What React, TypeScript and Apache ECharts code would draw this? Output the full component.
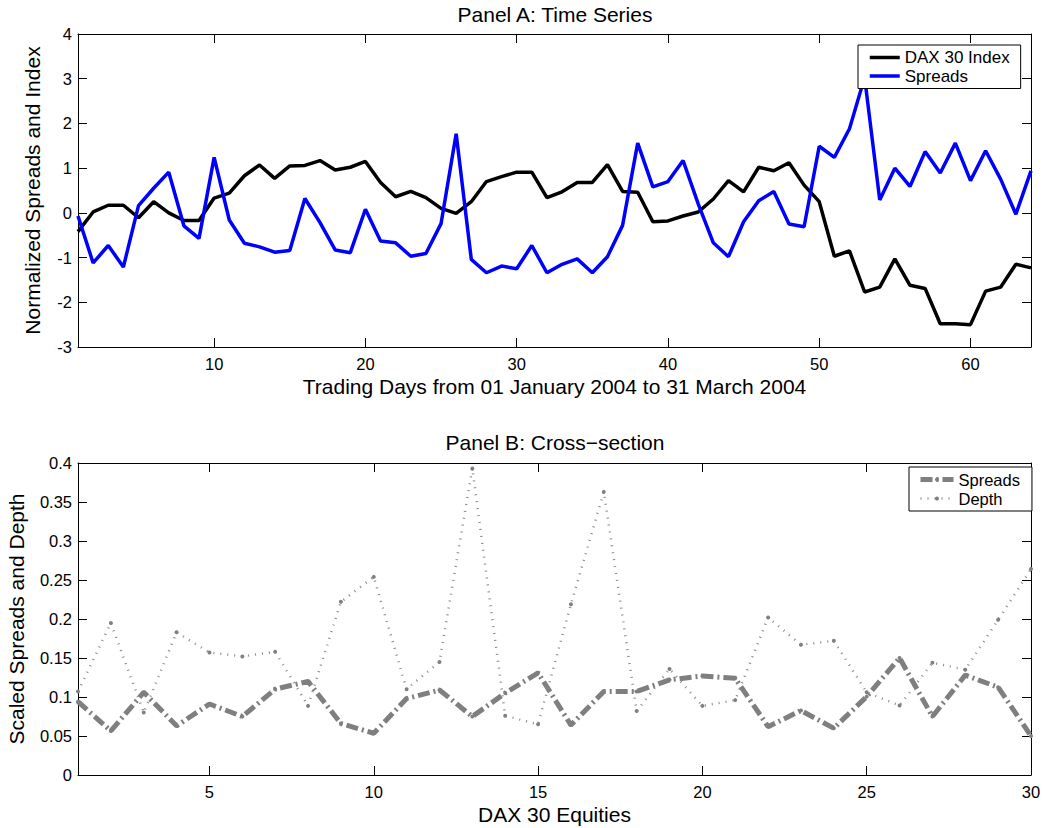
import React, { useEffect, useRef } from "react";
import * as echarts from "echarts";

// ---- Panel A: time series (64 trading days) ----
const daxIndex = [
  -0.42, 0.02, 0.17, 0.17, -0.11, 0.25, 0.0, -0.17, -0.17, 0.33,
  0.44, 0.83, 1.07, 0.77, 1.05, 1.06, 1.17, 0.96, 1.02, 1.15,
  0.68, 0.36, 0.48, 0.34, 0.1, -0.01, 0.25, 0.7, 0.81, 0.91,
  0.91, 0.34, 0.47, 0.68, 0.68, 1.08, 0.48, 0.46, -0.2, -0.18,
  -0.07, 0.02, 0.31, 0.72, 0.47, 1.02, 0.94, 1.12, 0.62, 0.25,
  -0.97, -0.85, -1.77, -1.66, -1.03, -1.62, -1.69, -2.48, -2.48, -2.5,
  -1.75, -1.66, -1.15, -1.23,
];
const spreadsTS = [
  -0.07, -1.12, -0.73, -1.21, 0.16, 0.55, 0.91, -0.29, -0.57, 1.24,
  -0.16, -0.68, -0.76, -0.88, -0.84, 0.32, -0.22, -0.83, -0.89, 0.08,
  -0.63, -0.67, -0.97, -0.91, -0.24, 1.77, -1.04, -1.34, -1.19, -1.25,
  -0.73, -1.34, -1.15, -1.03, -1.34, -0.98, -0.28, 1.56, 0.58, 0.7,
  1.17, 0.2, -0.67, -0.98, -0.2, 0.27, 0.48, -0.25, -0.31, 1.49,
  1.24, 1.88, 3.03, 0.29, 1.0, 0.59, 1.37, 0.89, 1.56, 0.72,
  1.39, 0.75, -0.03, 0.94,
];
const topXTicks = [10, 20, 30, 40, 50, 60];

// ---- Panel B: cross-section (30 equities) ----
const spreadsCS = [
  0.094, 0.0565, 0.106, 0.063, 0.091, 0.075, 0.11, 0.12, 0.066, 0.0535,
  0.098, 0.109, 0.075, 0.105, 0.131, 0.064, 0.107, 0.107, 0.122, 0.127,
  0.124, 0.062, 0.0826, 0.06, 0.1005, 0.15, 0.075, 0.128, 0.1125, 0.05,
];
const depthCS = [
  0.107, 0.195, 0.08, 0.183, 0.157, 0.152, 0.158, 0.0886, 0.222, 0.254,
  0.11, 0.145, 0.393, 0.076, 0.065, 0.219, 0.363, 0.082, 0.136, 0.0886,
  0.096, 0.202, 0.167, 0.172, 0.106, 0.089, 0.144, 0.135, 0.199, 0.264,
];
const bottomXTicks = [5, 10, 15, 20, 25, 30];

const FONT = '"Liberation Sans", Arial, Helvetica, sans-serif';

const SPREADS_CS_DASH = [12, 4, 2, 4];
const DEPTH_DASH = [1, 6];

function xAxisPair(gridIndex: number, min: number, max: number, ticks: number[], name: string) {
  const common = {
    gridIndex,
    type: "value" as const,
    min,
    max,
    splitLine: { show: false },
    axisLine: { show: true, onZero: false, lineStyle: { color: "#000", width: 1 } },
  };
  return [
    {
      ...common,
      position: "bottom",
      axisTick: { show: true, inside: true, length: 9, customValues: ticks, lineStyle: { color: "#000" } },
      axisLabel: { show: true, customValues: ticks, color: "#000", fontSize: 16.5, fontFamily: FONT, margin: 8 },
      name,
      nameLocation: "middle",
      nameGap: 29,
      nameTextStyle: { color: "#000", fontSize: 21, fontFamily: FONT },
    },
    {
      ...common,
      position: "top",
      axisTick: { show: true, inside: true, length: 9, customValues: ticks, lineStyle: { color: "#000" } },
      axisLabel: { show: false, customValues: ticks },
    },
  ];
}

function yAxisPair(
  gridIndex: number,
  min: number,
  max: number,
  interval: number,
  name: string,
  nameGap: number,
  fmt: (v: number) => string
) {
  const common = {
    gridIndex,
    type: "value" as const,
    min,
    max,
    interval,
    splitLine: { show: false },
    axisLine: { show: true, onZero: false, lineStyle: { color: "#000", width: 1 } },
    axisTick: { show: true, inside: true, length: 9, lineStyle: { color: "#000" } },
  };
  return [
    {
      ...common,
      position: "left",
      axisLabel: { show: true, color: "#000", fontSize: 16.5, fontFamily: FONT, margin: 6, formatter: fmt },
      name,
      nameLocation: "middle",
      nameGap,
      nameTextStyle: { color: "#000", fontSize: 21, fontFamily: FONT },
    },
    {
      ...common,
      position: "right",
      axisLabel: { show: false },
    },
  ];
}

export default function App() {
  const ref = useRef<HTMLDivElement>(null);

  useEffect(() => {
    if (!ref.current) return;
    const chart = echarts.init(ref.current, undefined, { renderer: "svg" });

    const option: any = {
      animation: false,
      backgroundColor: "#fff",
      textStyle: { fontFamily: FONT },
      grid: [
        { left: 78, top: 34, width: 953, height: 313, outerBoundsMode: "none" },
        { left: 78, top: 463, width: 953, height: 312, outerBoundsMode: "none" },
      ],
      graphic: [
        {
          type: "text",
          x: 555,
          y: 14,
          style: {
            text: "Panel A: Time Series",
            fill: "#000",
            font: `21px ${FONT}`,
            align: "center",
            verticalAlign: "middle",
          },
        },
        {
          type: "text",
          x: 555,
          y: 442,
          style: {
            text: "Panel B: Cross\u2212section",
            fill: "#000",
            font: `21px ${FONT}`,
            align: "center",
            verticalAlign: "middle",
          },
        },
      ],
      xAxis: [
        ...xAxisPair(0, 1, 64, topXTicks, "Trading Days from 01 January 2004 to 31 March 2004"),
        ...xAxisPair(1, 1, 30, bottomXTicks, "DAX 30 Equities"),
      ],
      yAxis: [
        ...yAxisPair(0, -3, 4, 1, "Normalized Spreads and Index", 35, (v: number) => String(v)),
        ...yAxisPair(1, 0, 0.4, 0.05, "Scaled Spreads and Depth", 51, (v: number) =>
          String(parseFloat(Number(v).toFixed(2)))
        ),
      ],
      legend: [
        {
          data: [
            { name: "DAX 30 Index", lineStyle: { width: 3.5, color: "#000" } },
            { name: "Spreads", lineStyle: { width: 3.5, color: "#0000ff" } },
          ],
          orient: "vertical",
          left: 858,
          top: 45,
          itemWidth: 30,
          itemHeight: 3,
          itemGap: 1.5,
          padding: [4, 11, 4, 10],
          backgroundColor: "#fff",
          borderColor: "#000",
          borderWidth: 1,
          borderRadius: 0,
          selectedMode: false,
          textStyle: { color: "#000", fontSize: 17, fontFamily: FONT },
        },
        {
          data: [
            { name: "Spreads ", lineStyle: { width: 5, color: "#7f7f7f", type: SPREADS_CS_DASH } },
            { name: "Depth", lineStyle: { width: 2.5, color: "#8a8a8a", type: DEPTH_DASH } },
          ],
          orient: "vertical",
          left: 909,
          top: 467,
          itemWidth: 33,
          itemHeight: 5,
          itemGap: 2,
          padding: [4, 12, 4, 9],
          backgroundColor: "#fff",
          borderColor: "#000",
          borderWidth: 1,
          borderRadius: 0,
          selectedMode: false,
          formatter: (n: string) => n.trim(),
          textStyle: { color: "#000", fontSize: 16.5, fontFamily: FONT },
        },
      ],
      series: [
        {
          name: "DAX 30 Index",
          type: "line",
          xAxisIndex: 0,
          yAxisIndex: 0,
          data: daxIndex.map((v, i) => [i + 1, v]),
          symbol: "none",
          lineStyle: { color: "#000", width: 3.5 },
          itemStyle: { color: "#000" },
          z: 3,
        },
        {
          name: "Spreads",
          type: "line",
          xAxisIndex: 0,
          yAxisIndex: 0,
          data: spreadsTS.map((v, i) => [i + 1, v]),
          symbol: "none",
          lineStyle: { color: "#0000ff", width: 3.5 },
          itemStyle: { color: "#0000ff" },
          z: 3,
        },
        {
          name: "Spreads ",
          type: "line",
          xAxisIndex: 2,
          yAxisIndex: 2,
          data: spreadsCS.map((v, i) => [i + 1, v]),
          symbol: "circle",
          symbolSize: 4,
          showSymbol: true,
          lineStyle: { color: "#7f7f7f", width: 5, type: SPREADS_CS_DASH, cap: "butt" },
          itemStyle: { color: "#7f7f7f" },
          z: 3,
        },
        {
          name: "Depth",
          type: "line",
          xAxisIndex: 2,
          yAxisIndex: 2,
          data: depthCS.map((v, i) => [i + 1, v]),
          symbol: "circle",
          symbolSize: 4,
          showSymbol: true,
          lineStyle: { color: "#8a8a8a", width: 2.5, type: DEPTH_DASH, cap: "butt" },
          itemStyle: { color: "#808080" },
          z: 3,
        },
      ],
    };

    chart.setOption(option);
    return () => chart.dispose();
  }, []);

  return (
    <div
      ref={ref}
      style={{ position: "absolute", left: 0, top: 0, width: 1044, height: 828, background: "#fff" }}
    />
  );
}
